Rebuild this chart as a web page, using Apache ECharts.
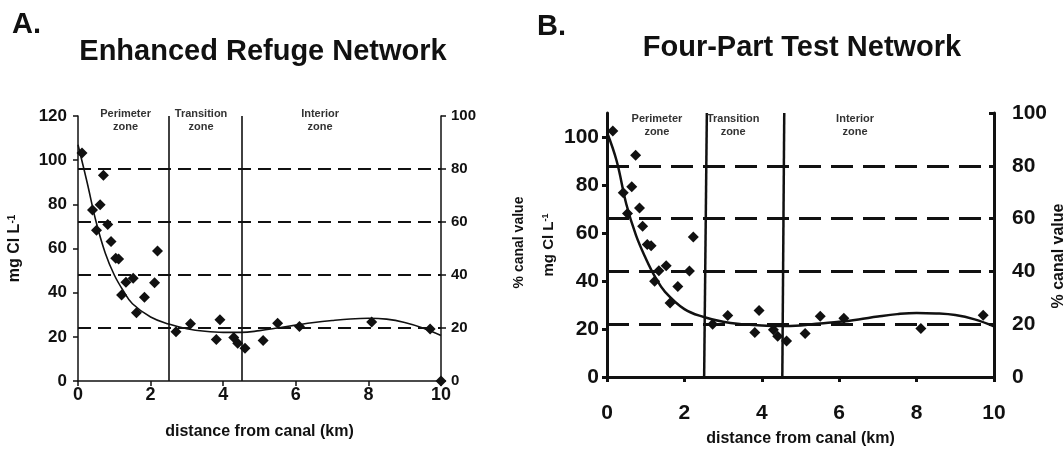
<!DOCTYPE html>
<html>
<head>
<meta charset="utf-8">
<script src="https://cdn.jsdelivr.net/npm/echarts@6/dist/echarts.min.js"></script>
<style>
html,body{margin:0;padding:0;background:#fff;}
#main{width:1063px;height:451px;}
</style>
</head>
<body>
<div id="main"></div>
<script>
// ---------- data ----------
const panelLetters = ['A.', 'B.'];
const panelTitles = ['Enhanced Refuge Network', 'Four-Part Test Network'];
const zoneNames = ['Perimeter\nzone', 'Transition\nzone', 'Interior\nzone'];
const zoneBounds = [2.5, 4.5];
const xTicks = [0, 2, 4, 6, 8, 10];
const leftTicksA = [0, 20, 40, 60, 80, 100, 120];
const leftTicksB = [0, 20, 40, 60, 80, 100];
const rightTicks = [0, 20, 40, 60, 80, 100];
const dashLevels = [20, 40, 60, 80];   // % canal value

// Panel A measured points (distance km, mg Cl/L)
const distA = [0.11,0.40,0.51,0.61,0.70,0.82,0.91,1.04,1.12,1.20,1.32,1.52,1.61,1.83,2.11,2.19,2.70,3.10,3.81,3.91,4.29,4.40,4.60,5.10,5.50,6.10,8.09,9.70,10.0];
const clA   = [103.2,77.4,68.3,79.8,93.2,70.9,63.2,55.6,55.3,38.9,44.7,46.5,30.9,37.9,44.5,58.9,22.3,25.9,18.8,27.7,19.7,17.1,14.8,18.3,26.2,24.7,26.7,23.6,0];
// Panel A fitted curve
const fitXA = [0,0.25,0.5,0.75,1,1.25,1.5,2,2.5,3,3.5,4,4.5,5,5.5,6,6.5,7,7.5,8,8.5,9,9.5,10];
const fitYA = [107,90,72,58,48,40.8,35,29,25.8,23.7,22.5,22,22,22.8,24,25.3,26.5,27.4,28.1,28.4,28,26.5,24,20.6];

// Panel B measured points
const distB = [0.15,0.42,0.53,0.64,0.74,0.84,0.92,1.04,1.14,1.23,1.34,1.53,1.63,1.83,2.13,2.23,2.73,3.12,3.82,3.93,4.30,4.41,4.64,5.12,5.51,6.12,8.11,9.72];
const clB   = [102.5,76.8,68.1,79.3,92.4,70.4,62.8,55.2,54.7,39.9,44.3,46.4,30.8,37.7,44.2,58.3,22,25.6,18.5,27.7,19.7,17,15,18.1,25.3,24.5,20.2,25.7];
// Panel B fitted curve
const fitXB = [0,0.25,0.5,0.75,1,1.25,1.5,2,2.5,3,3.5,4,4.5,5,5.5,6,6.5,7,7.5,8,8.5,9,9.5,10];
const fitYB = [102,90,72,59,49.5,41.5,35.5,28.3,25,23,22,21.5,21.2,21.5,22.3,23,24,25.2,26.2,26.7,26.5,25.8,24,21.1];

// ---------- chart ----------
const pairs = (xs, ys) => xs.map((x, i) => [x, ys[i]]);
const FONT = '"Liberation Sans", Arial, sans-serif';
const chart = echarts.init(document.getElementById('main'), null, {renderer: 'canvas'});

function panel(idx, cfg) {
  const g = idx, yl = idx * 2, yr = idx * 2 + 1;
  const xAxis = {
    gridIndex: g, type: 'value', min: 0, max: 10, interval: 2,
    axisLine: {show: true, onZero: false, lineStyle: {color: '#111', width: cfg.axisW}},
    axisTick: {show: true, length: cfg.tickLen, lineStyle: {color: '#111', width: cfg.axisW}},
    axisLabel: {color: '#111', fontFamily: FONT, fontWeight: 'bold', fontSize: cfg.xLabelSize, margin: cfg.xLabelMargin,
      customValues: xTicks},
    splitLine: {show: false},
    name: 'distance from canal (km)', nameLocation: 'middle', nameGap: cfg.xNameGap,
    nameTextStyle: {color: '#111', fontFamily: FONT, fontWeight: 'bold', fontSize: cfg.nameSize}
  };
  const yLeft = {
    gridIndex: g, type: 'value', min: 0, max: cfg.leftMax, interval: 20, position: 'left',
    axisLine: {show: true, onZero: false, lineStyle: {color: '#111', width: cfg.axisW}},
    axisTick: {show: true, length: cfg.tickLen, lineStyle: {color: '#111', width: cfg.axisW}, customValues: cfg.leftTicks},
    axisLabel: {color: '#111', fontFamily: FONT, fontWeight: 'bold', fontSize: cfg.leftLabelSize, margin: cfg.leftLabelMargin,
      customValues: cfg.leftTicks},
    splitLine: {show: false},
    name: 'mg Cl L{sup|-1}', nameLocation: 'middle', nameGap: cfg.leftNameGap,
    nameTextStyle: {color: '#111', fontFamily: FONT, fontWeight: 'bold', fontSize: cfg.leftNameSize,
      rich: {sup: {fontFamily: FONT, fontWeight: 'bold', fontSize: Math.round(cfg.leftNameSize * 0.6), verticalAlign: 'top', color: '#111'}}}
  };
  const yRight = {
    gridIndex: g, type: 'value', min: 0, max: 100, interval: 20, position: 'right',
    axisLine: {show: true, onZero: false, lineStyle: {color: '#111', width: cfg.axisW}},
    axisTick: {show: true, inside: cfg.rightTickInside, length: cfg.tickLen, lineStyle: {color: '#111', width: cfg.axisW}},
    axisLabel: {color: '#111', fontFamily: FONT, fontWeight: 'bold', fontSize: cfg.rightLabelSize, margin: cfg.rightLabelMargin,
      customValues: rightTicks},
    splitLine: {show: false},
    name: '% canal value', nameLocation: 'middle', nameGap: cfg.rightNameGap, nameRotate: 90,
    nameTextStyle: {color: '#111', fontFamily: FONT, fontWeight: 'bold', fontSize: cfg.rightNameSize,
      padding: cfg.rightNamePad}
  };
  const vLines = cfg.vLineCoords.map(c => [{coord: c[0]}, {coord: c[1]}]);
  const series = [
    {
      type: 'line', xAxisIndex: g, yAxisIndex: yr, data: [], silent: true,
      markLine: {
        silent: true, symbol: 'none', label: {show: false}, animation: false,
        lineStyle: {color: '#111', width: cfg.dashW, type: cfg.dash, opacity: 1},
        data: dashLevels.map(v => ({yAxis: v}))
      }
    },
    {
      type: 'line', xAxisIndex: g, yAxisIndex: yl, data: pairs(cfg.fitX, cfg.fitY),
      smooth: 0.4, showSymbol: false, symbol: 'none', silent: true,
      lineStyle: {color: '#111', width: cfg.curveW},
      markLine: {
        silent: true, symbol: 'none', label: {show: false}, animation: false,
        lineStyle: {color: '#111', width: cfg.vLineW, type: 'solid', opacity: 1},
        data: vLines
      },
      markPoint: {
        silent: true, symbol: 'circle', symbolSize: 1, itemStyle: {color: 'rgba(0,0,0,0)'},
        label: {show: true, position: 'inside', formatter: '{b}', color: '#333', fontFamily: FONT, fontWeight: 'bold',
          fontSize: 11, lineHeight: 13, align: 'center'},
        data: zoneNames.map((n, i) => ({name: n, coord: cfg.zoneLabelCoords[i]}))
      }
    },
    {
      type: 'scatter', xAxisIndex: g, yAxisIndex: yl, data: pairs(cfg.distX, cfg.cl),
      symbol: 'diamond', symbolSize: cfg.symSize, clip: false,
      itemStyle: {color: '#111', opacity: 1}
    }
  ];
  return {xAxis, yAxes: [yLeft, yRight], series};
}

const pA = panel(0, {
  axisW: 1.5, tickLen: 5, dashW: 2, dash: [13, 7], curveW: 1.6, vLineW: 1.6, symSize: 11,
  leftMax: 120, leftTicks: leftTicksA,
  xLabelSize: 18, xLabelMargin: 5, leftLabelSize: 17, leftLabelMargin: 11,
  rightLabelSize: 15, rightLabelMargin: 10, rightTickInside: false,
  nameSize: 16, xNameGap: 43, leftNameSize: 16, leftNameGap: 55, rightNameSize: 14, rightNameGap: 71,
  rightNamePad: [0, 0, 0, 12],
  vLineCoords: [[[zoneBounds[0], 0], [zoneBounds[0], 120]], [[zoneBounds[1], 0], [zoneBounds[1], 120]]],
  zoneLabelCoords: [[1.31, 118], [3.39, 118], [6.67, 118]],
  fitX: fitXA, fitY: fitYA, distX: distA, cl: clA
});
const pB = panel(1, {
  axisW: 3, tickLen: 5, dashW: 3, dash: [22, 10], curveW: 2.5, vLineW: 2.5, symSize: 11,
  leftMax: 110, leftTicks: leftTicksB,
  xLabelSize: 21, xLabelMargin: 26, leftLabelSize: 21, leftLabelMargin: 8,
  rightLabelSize: 21, rightLabelMargin: 18, rightTickInside: true,
  nameSize: 16, xNameGap: 54, leftNameSize: 15, leftNameGap: 51, rightNameSize: 16, rightNameGap: 53,
  rightNamePad: [0, 22, 0, 0],
  vLineCoords: [[[zoneBounds[0] + 0.01, 0], [zoneBounds[0] + 0.08, 110]], [[zoneBounds[1] + 0.03, 0], [zoneBounds[1] + 0.08, 110]]],
  zoneLabelCoords: [[1.29, 105], [3.26, 105], [6.41, 105]],
  fitX: fitXB, fitY: fitYB, distX: distB, cl: clB
});

const titleStyle = {color: '#111', fontFamily: FONT, fontWeight: 'bold', fontSize: 29};
chart.setOption({
  animation: false,
  backgroundColor: '#fff',
  title: [
    {text: panelLetters[0], left: 7, top: 5, textStyle: titleStyle},
    {text: panelTitles[0], left: 258, top: 32, textAlign: 'center', textStyle: titleStyle},
    {text: panelLetters[1], left: 532, top: 7, textStyle: titleStyle},
    {text: panelTitles[1], left: 797, top: 28, textAlign: 'center', textStyle: titleStyle}
  ],
  grid: [
    {left: 78, top: 116, width: 363, height: 265, containLabel: false, outerBoundsMode: 'none'},
    {left: 607, top: 113, width: 387, height: 264, containLabel: false, outerBoundsMode: 'none'}
  ],
  xAxis: [pA.xAxis, pB.xAxis],
  yAxis: [...pA.yAxes, ...pB.yAxes],
  series: [...pA.series, ...pB.series]
});
</script>
</body>
</html>
